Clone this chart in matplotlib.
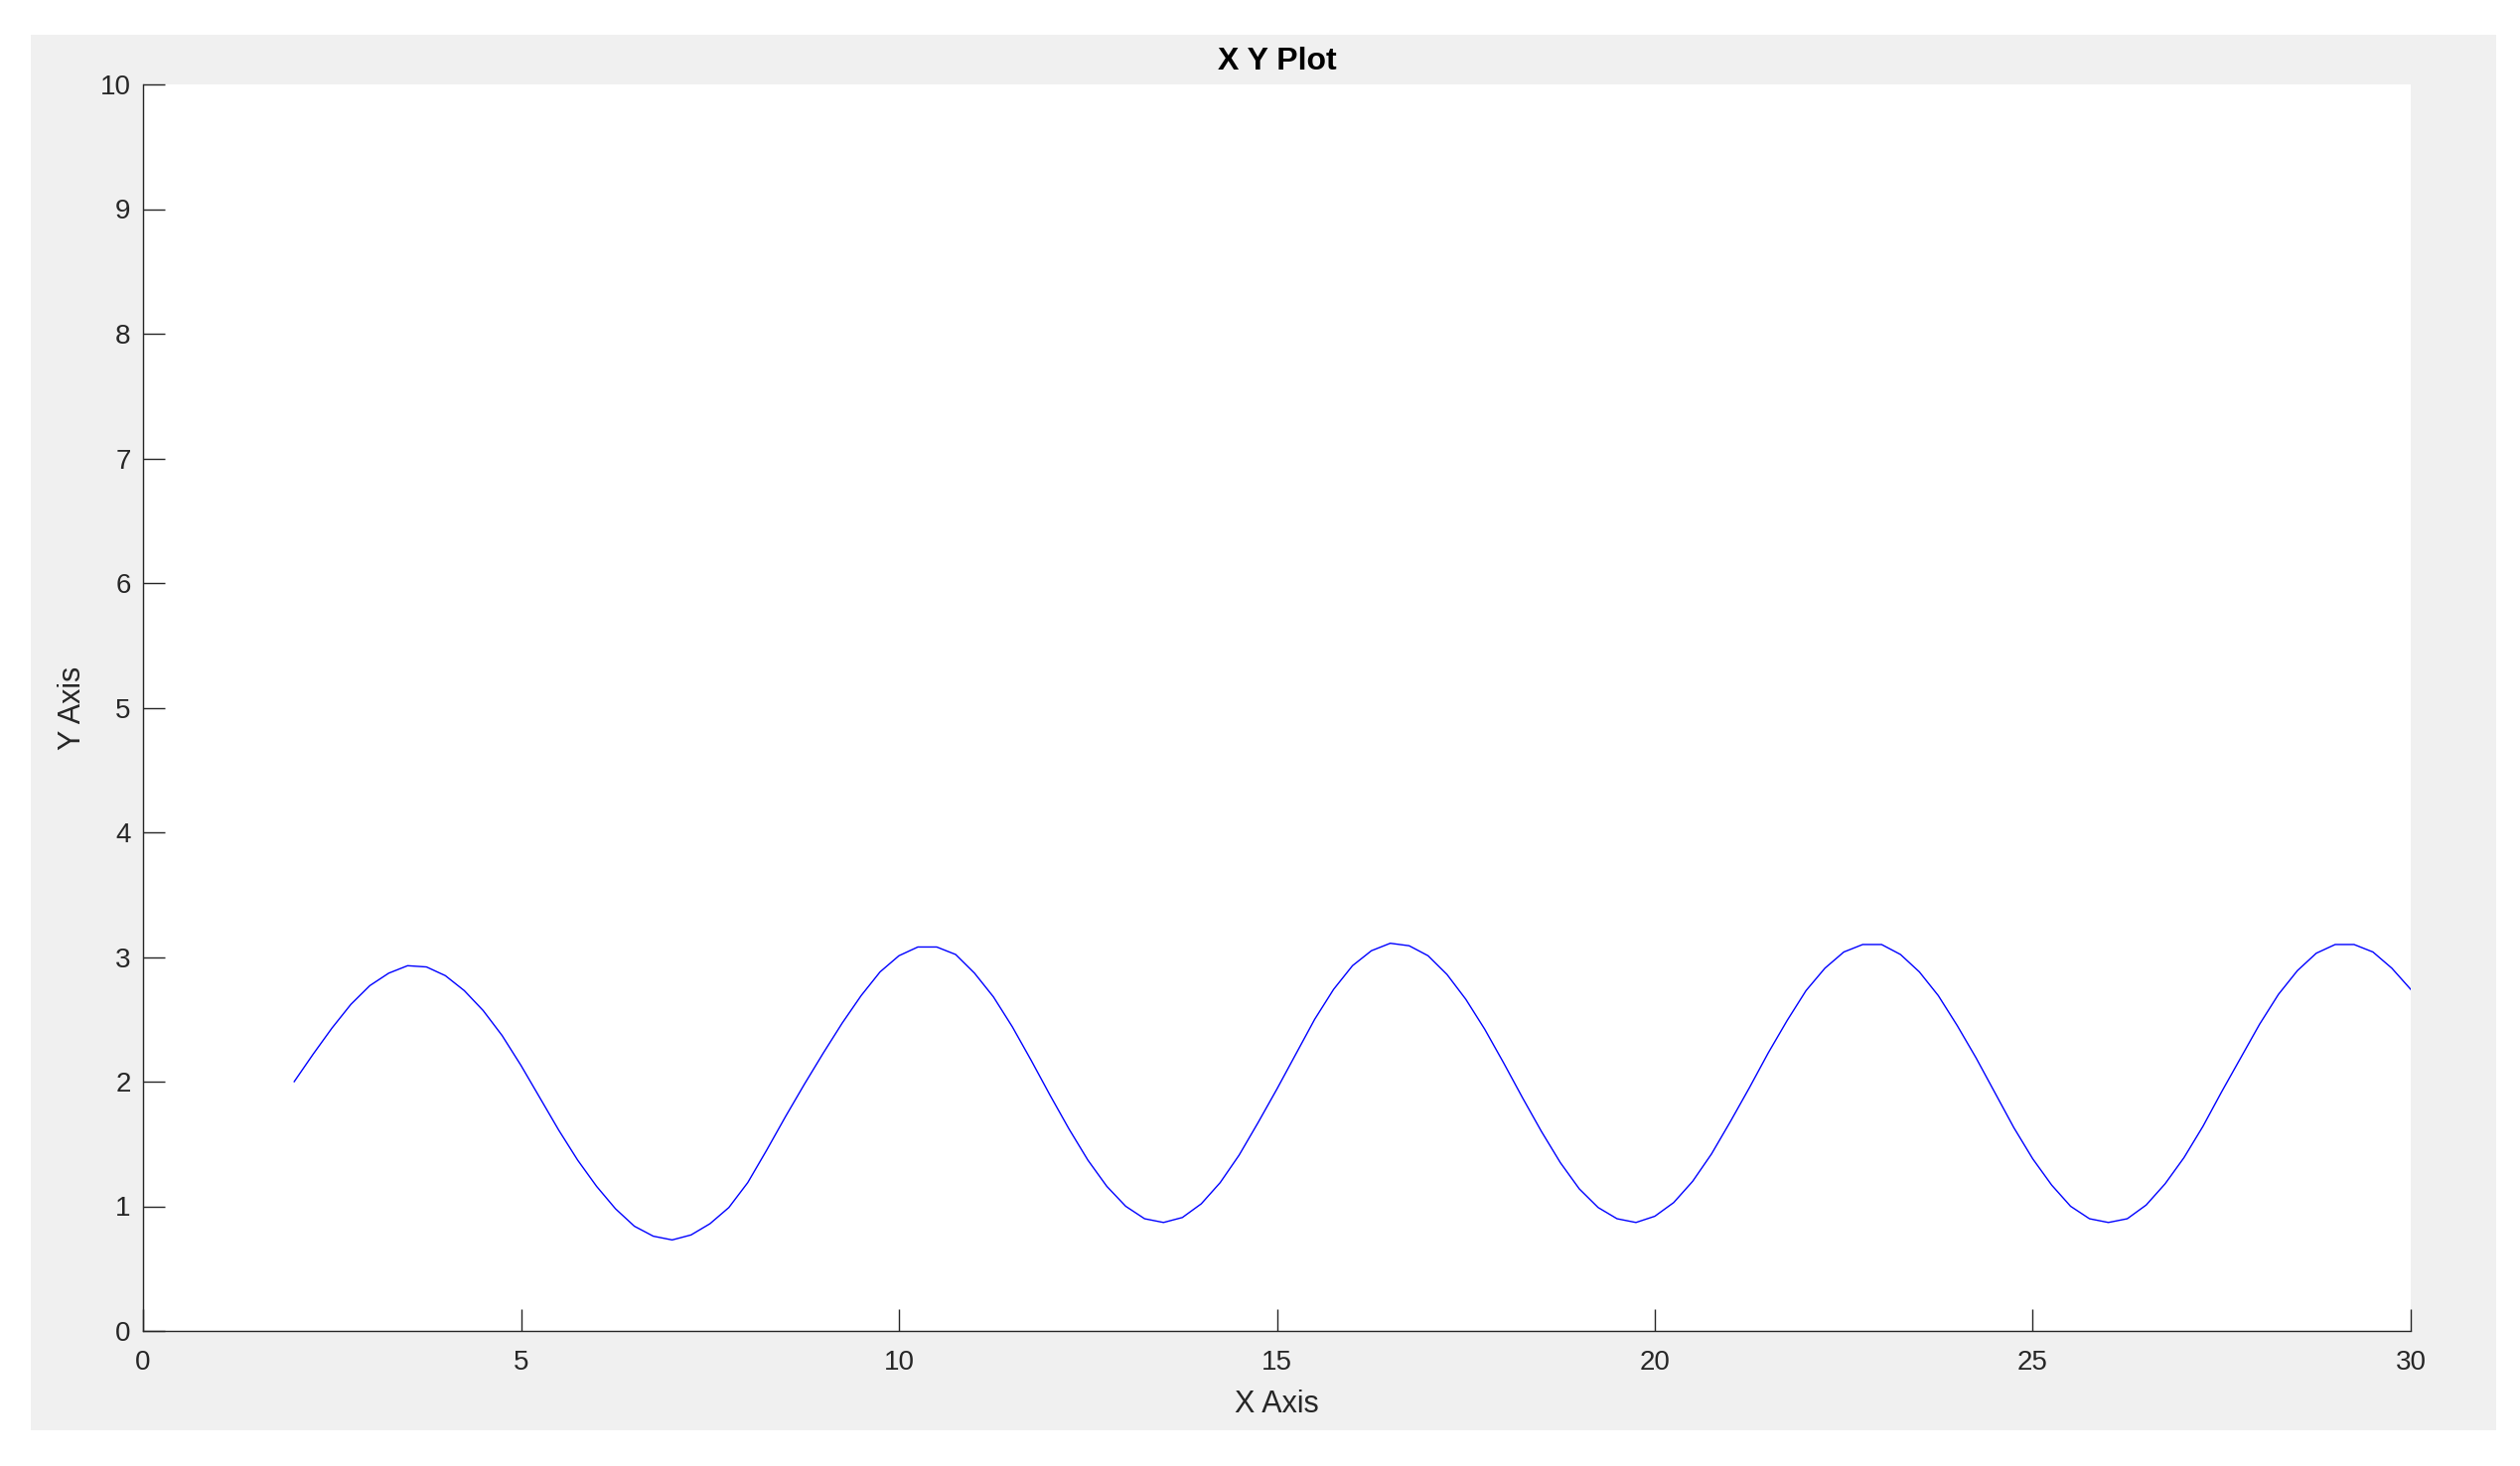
import numpy as np
import matplotlib
matplotlib.use("Agg")
import matplotlib.pyplot as plt
from matplotlib.patches import Rectangle

# curve, one value every 0.25 on x (x = 2 .. 30)
x_start, x_stop, x_step = 2.0, 30.0, 0.25
y_values = [
    2.00, 2.22, 2.43, 2.62, 2.77, 2.87, 2.93, 2.92, 2.85, 2.73, 2.57, 2.37,
    2.13, 1.87, 1.61, 1.37, 1.16, 0.98, 0.84, 0.76, 0.73, 0.77, 0.86, 0.99,
    1.19, 1.45, 1.72, 1.98, 2.23, 2.47, 2.69, 2.88, 3.01, 3.08, 3.08, 3.02,
    2.87, 2.68, 2.44, 2.17, 1.89, 1.62, 1.37, 1.16, 1.00, 0.90, 0.87, 0.91,
    1.02, 1.19, 1.41, 1.67, 1.94, 2.22, 2.50, 2.74, 2.93, 3.05, 3.11, 3.09,
    3.01, 2.86, 2.66, 2.42, 2.15, 1.87, 1.60, 1.35, 1.14, 0.99, 0.90, 0.87,
    0.92, 1.03, 1.20, 1.42, 1.68, 1.95, 2.23, 2.49, 2.73, 2.91, 3.04, 3.10,
    3.10, 3.02, 2.88, 2.69, 2.45, 2.19, 1.91, 1.63, 1.38, 1.17, 1.00, 0.90,
    0.87, 0.90, 1.01, 1.18, 1.39, 1.64, 1.92, 2.19, 2.46, 2.70, 2.89, 3.03,
    3.10, 3.10, 3.04, 2.91, 2.74,
]
x_values = np.arange(x_start, x_stop + x_step / 2, x_step)

x_ticks = [0, 5, 10, 15, 20, 25, 30]
y_ticks = list(range(0, 11))

plt.rcParams.update({
    'font.family': ['Liberation Sans', 'DejaVu Sans'],
    'font.size': 20,
})

W, H = 2537, 1476
fig = plt.figure(figsize=(W / 100.0, H / 100.0), dpi=100, facecolor='white')

# gray window background like the MATLAB figure (kept behind the axes)
fig.patches.append(Rectangle((31 / W, 1 - 1440 / H), (2513 - 31) / W, (1440 - 35) / H,
                             transform=fig.transFigure, facecolor='#f0f0f0',
                             edgecolor='none', zorder=-10))

ax = fig.add_axes([144 / W, 1 - 1340 / H, (2427 - 144) / W, (1340 - 85) / H])
ax.set_zorder(1)
ax.set_facecolor('white')
ax.plot(x_values, y_values, color=(0, 0, 1), linewidth=1.0)

ax.set_xlim(0, 30)
ax.set_ylim(0, 10)
ax.set_xticks(x_ticks)
ax.set_yticks(y_ticks)

for side in ['top', 'right']:
    ax.spines[side].set_visible(False)
for side in ['left', 'bottom']:
    ax.spines[side].set_color('#262626')
    ax.spines[side].set_linewidth(1.0)

ax.tick_params(axis='both', direction='in', length=16, width=1.0, color='#262626',
               labelcolor='#262626', labelsize=20)
ax.tick_params(axis='x', pad=14)
ax.tick_params(axis='y', pad=9)

ax.set_xlabel('X Axis', fontsize=22, color='#262626', labelpad=10)
ax.set_ylabel('Y Axis', fontsize=22, color='#262626', labelpad=9)
ax.set_title('X Y Plot', fontsize=23, fontweight='bold', color='black', pad=11)

fig.savefig('out.png', dpi=100, facecolor=fig.get_facecolor())
